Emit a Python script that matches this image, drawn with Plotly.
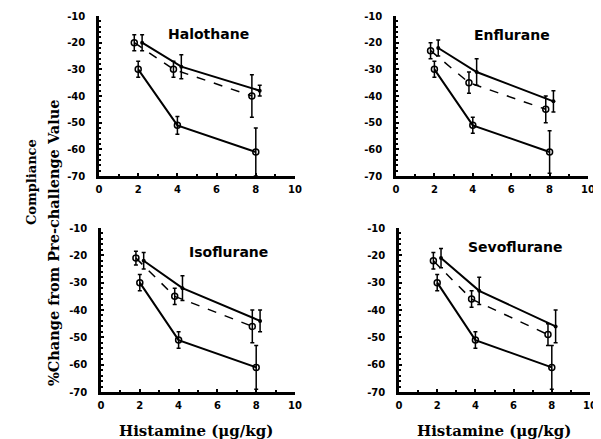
import plotly.graph_objects as go

panels = ["Halothane", "Enflurane", "Isoflurane", "Sevoflurane"]

# bottom solid series (x = 2, 4, 8)
x_low = [2, 4, 8]
low_y = {
    "Halothane": [-30, -51, -61],
    "Enflurane": [-30, -51, -61],
    "Isoflurane": [-30, -51, -61],
    "Sevoflurane": [-30, -51, -61],
}
low_err = {
    "Halothane": [3, 3.3, 9],
    "Enflurane": [3, 3, 8],
    "Isoflurane": [3, 3, 8],
    "Sevoflurane": [3, 3, 8],
}
# dashed series (offset left)
x_dash = [1.8, 3.8, 7.8]
dash_y = {
    "Halothane": [-20, -30, -40],
    "Enflurane": [-23, -35, -45],
    "Isoflurane": [-21, -35, -46],
    "Sevoflurane": [-22, -36, -49],
}
dash_err = {
    "Halothane": [3, 3, 8],
    "Enflurane": [3, 4, 5],
    "Isoflurane": [2.5, 3, 6],
    "Sevoflurane": [3, 3, 4],
}
# upper solid series (offset right)
x_up = [2.2, 4.2, 8.2]
up_y = {
    "Halothane": [-20, -29, -38],
    "Enflurane": [-22, -31, -42],
    "Isoflurane": [-22, -32, -44],
    "Sevoflurane": [-21, -33, -46],
}
up_err = {
    "Halothane": [3, 4.5, 2],
    "Enflurane": [3, 5, 4],
    "Isoflurane": [3, 4.5, 4],
    "Sevoflurane": [3.5, 5, 6],
}

y_ticks = [-70, -60, -50, -40, -30, -20, -10]
x_ticks = [0, 2, 4, 6, 8, 10]

# page body has an 8px margin, so the figure is 8px smaller and offset
OFF = 8
W, H = 601 - OFF, 439 - OFF


def px(x):
    return (x - OFF) / W


def py(y):
    return 1 - (y - OFF) / H


# panel pixel boxes in page coordinates: (x0, x1, ytop, ybottom)
boxes = {
    "Halothane": (99, 295, 16, 176),
    "Enflurane": (396, 588, 16, 176),
    "Isoflurane": (101, 295, 228, 392),
    "Sevoflurane": (399, 590, 228, 392),
}
title_pos = {
    "Halothane": (208, 34),
    "Enflurane": (512, 35),
    "Isoflurane": (228, 252),
    "Sevoflurane": (515, 247),
}

fig = go.Figure()

for i, name in enumerate(panels):
    ax = "" if i == 0 else str(i + 1)
    xa, ya = "x" + ax, "y" + ax
    common = dict(xaxis=xa, yaxis=ya, showlegend=False, cliponaxis=False)
    fig.add_trace(go.Scatter(
        x=x_low, y=low_y[name], mode="lines+markers",
        line=dict(color="black", width=2),
        marker=dict(symbol="circle-open", size=6, color="black", line=dict(width=1.5)),
        error_y=dict(type="data", array=low_err[name], color="black", thickness=1.5, width=2),
        **common))
    fig.add_trace(go.Scatter(
        x=x_dash, y=dash_y[name], mode="lines+markers",
        line=dict(color="black", width=1.5, dash="dash"),
        marker=dict(symbol="circle-open", size=6, color="black", line=dict(width=1.5)),
        error_y=dict(type="data", array=dash_err[name], color="black", thickness=1.5, width=2),
        **common))
    fig.add_trace(go.Scatter(
        x=x_up, y=up_y[name], mode="lines+markers",
        line=dict(color="black", width=2),
        marker=dict(symbol="circle", size=4, color="black"),
        error_y=dict(type="data", array=up_err[name], color="black", thickness=1.5, width=2),
        **common))

    x0, x1, yt, yb = boxes[name]
    fig.layout["xaxis" + ax] = dict(
        domain=[px(x0), px(x1)], range=[0, 10], anchor=ya, automargin=False,
        tickvals=x_ticks, ticktext=[str(v) for v in x_ticks],
        ticks="inside", ticklen=3, tickwidth=1.5, tickcolor="black",
        minor=dict(dtick=1, ticks="inside", ticklen=2, tickcolor="black"),
        showline=True, linecolor="black", linewidth=2.5, showgrid=False, zeroline=False,
        ticklabelstandoff=2,
        tickfont=dict(family="DejaVu Sans", size=10, color="black", weight="bold"),
    )
    fig.layout["yaxis" + ax] = dict(
        domain=[py(yb), py(yt)], range=[-70, -10], anchor=xa, automargin=False,
        tickvals=y_ticks, ticktext=["-%d" % abs(v) for v in y_ticks],
        ticks="inside", ticklen=3, tickwidth=1.5, tickcolor="black",
        minor=dict(dtick=2, ticks="inside", ticklen=2, tickcolor="black"),
        showline=True, linecolor="black", linewidth=2.5, showgrid=False, zeroline=False,
        ticklabelstandoff=9,
        tickfont=dict(family="DejaVu Sans", size=10, color="black", weight="bold"),
    )
    tx, ty = title_pos[name]
    fig.add_annotation(x=px(tx), y=py(ty), xref="paper", yref="paper",
                       xanchor="center", yanchor="middle",
                       text="<b>%s</b>" % name, showarrow=False,
                       font=dict(family="DejaVu Sans", size=14, color="black"))

# x-axis titles
for cx in (196, 494):
    fig.add_annotation(x=px(cx), y=py(431), xref="paper", yref="paper",
                       xanchor="center", yanchor="middle",
                       text="<b>Histamine (μg/kg)</b>", showarrow=False,
                       font=dict(family="DejaVu Serif", size=15, color="black"))

# y-axis titles
fig.add_annotation(x=px(31), y=py(182), xref="paper", yref="paper",
                   xanchor="center", yanchor="middle",
                   text="<b>Compliance</b>", showarrow=False, textangle=-90,
                   font=dict(family="DejaVu Serif", size=13, color="black"))
fig.add_annotation(x=px(54), y=py(243), xref="paper", yref="paper",
                   xanchor="center", yanchor="middle",
                   text="<b>%Change from Pre-challenge Value</b>", showarrow=False, textangle=-90,
                   font=dict(family="DejaVu Serif", size=14.5, color="black"))

fig.update_layout(
    width=W, height=H, margin=dict(l=0, r=0, t=0, b=0, autoexpand=False),
    paper_bgcolor="white", plot_bgcolor="white",
)
fig.write_html("out.html")
